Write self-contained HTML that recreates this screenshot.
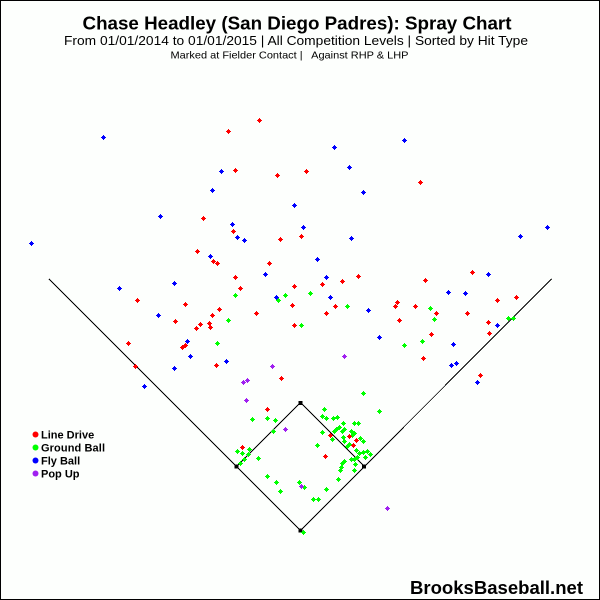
<!DOCTYPE html>
<html>
<head>
<meta charset="utf-8">
<style>
html,body{margin:0;padding:0;background:#fdfffd;}
svg{display:block;}
text{font-family:"Liberation Sans",Arial,sans-serif;fill:#000;}
</style>
</head>
<body>
<svg width="600" height="600" viewBox="0 0 600 600" xmlns="http://www.w3.org/2000/svg">
<defs>
<g id="m"><rect x="-1.5" y="-1.5" width="3" height="3"/><rect x="-2.5" y="-0.5" width="5" height="1"/><rect x="-0.5" y="-2.5" width="1" height="5"/></g>
</defs>
<rect x="0" y="0" width="600" height="600" fill="#fdfffd"/>
<rect x="0.5" y="0.5" width="599" height="599" fill="none" stroke="#000" stroke-width="1"/>

<!-- Titles -->
<text x="82.5" y="29.5" font-size="18" font-weight="bold" textLength="429" lengthAdjust="spacingAndGlyphs">Chase Headley (San Diego Padres): Spray Chart</text>
<text x="64" y="45" font-size="12.5" textLength="464" lengthAdjust="spacingAndGlyphs">From 01/01/2014 to 01/01/2015 | All Competition Levels | Sorted by Hit Type</text>
<text x="170.5" y="58.5" font-size="10.5" textLength="238" lengthAdjust="spacingAndGlyphs" xml:space="preserve">Marked at Fielder Contact |   Against RHP &amp; LHP</text>

<!-- Field lines -->
<g stroke="#000" stroke-width="1" fill="none" shape-rendering="crispEdges">
<line x1="49" y1="279" x2="300.5" y2="530.5"/>
<line x1="551.5" y1="279" x2="300.5" y2="530.5"/>
<line x1="236.5" y1="466.5" x2="300.5" y2="402.5"/>
<line x1="300.5" y1="402.5" x2="364.5" y2="466.5"/>
</g>
<g fill="#000">
<rect x="298.5" y="401" width="4" height="4"/>
<rect x="362" y="464.5" width="4" height="4"/>
<rect x="234.5" y="464.5" width="4" height="4"/>
<rect x="298.5" y="528.5" width="4" height="4"/>
</g>

<!-- Green: Ground Ball -->
<g fill="#00ff00">
<use href="#m" x="235.5" y="295.5"/><use href="#m" x="278.5" y="300.5"/><use href="#m" x="285.5" y="295.5"/><use href="#m" x="228.5" y="320.5"/><use href="#m" x="217.5" y="343.5"/>
<use href="#m" x="310.5" y="293.5"/><use href="#m" x="347.5" y="306.5"/><use href="#m" x="430.5" y="308.5"/><use href="#m" x="434.5" y="319.5"/><use href="#m" x="508.5" y="318.5"/><use href="#m" x="513.5" y="318.5"/><use href="#m" x="301.5" y="325.5"/><use href="#m" x="422.5" y="341.5"/><use href="#m" x="404.5" y="345.5"/>
<use href="#m" x="363.5" y="393.5"/><use href="#m" x="324.5" y="409.5"/><use href="#m" x="379.5" y="411.5"/><use href="#m" x="252.5" y="419.5"/><use href="#m" x="267.5" y="418.5"/><use href="#m" x="275.5" y="420.5"/><use href="#m" x="322.5" y="416.5"/><use href="#m" x="326.5" y="418.5"/><use href="#m" x="333.5" y="418.5"/><use href="#m" x="337.5" y="417.5"/>
<use href="#m" x="343.5" y="423.5"/><use href="#m" x="354.5" y="423.5"/><use href="#m" x="358.5" y="423.5"/><use href="#m" x="339.5" y="427.5"/><use href="#m" x="336.5" y="429.5"/><use href="#m" x="334.5" y="431.5"/><use href="#m" x="342.5" y="431.5"/><use href="#m" x="344.5" y="429.5"/><use href="#m" x="322.5" y="432.5"/><use href="#m" x="273.5" y="431.5"/>
<use href="#m" x="351.5" y="431.5"/><use href="#m" x="354.5" y="433.5"/><use href="#m" x="352.5" y="435.5"/><use href="#m" x="343.5" y="437.5"/><use href="#m" x="360.5" y="438.5"/><use href="#m" x="332.5" y="439.5"/><use href="#m" x="363.5" y="441.5"/><use href="#m" x="344.5" y="441.5"/><use href="#m" x="317.5" y="445.5"/><use href="#m" x="349.5" y="444.5"/>
<use href="#m" x="347.5" y="446.5"/><use href="#m" x="237.5" y="451.5"/><use href="#m" x="249.5" y="449.5"/><use href="#m" x="356.5" y="450.5"/><use href="#m" x="359.5" y="453.5"/><use href="#m" x="363.5" y="452.5"/><use href="#m" x="367.5" y="451.5"/><use href="#m" x="370.5" y="454.5"/><use href="#m" x="242.5" y="453.5"/><use href="#m" x="248.5" y="454.5"/>
<use href="#m" x="357.5" y="457.5"/><use href="#m" x="365.5" y="457.5"/><use href="#m" x="244.5" y="459.5"/><use href="#m" x="258.5" y="458.5"/><use href="#m" x="351.5" y="459.5"/><use href="#m" x="354.5" y="459.5"/><use href="#m" x="344.5" y="461.5"/><use href="#m" x="342.5" y="463.5"/><use href="#m" x="240.5" y="463.5"/><use href="#m" x="355.5" y="464.5"/>
<use href="#m" x="341.5" y="467.5"/><use href="#m" x="340.5" y="470.5"/><use href="#m" x="354.5" y="470.5"/><use href="#m" x="267.5" y="476.5"/><use href="#m" x="338.5" y="479.5"/><use href="#m" x="276.5" y="482.5"/><use href="#m" x="299.5" y="482.5"/><use href="#m" x="304.5" y="487.5"/><use href="#m" x="280.5" y="491.5"/><use href="#m" x="326.5" y="489.5"/>
<use href="#m" x="313.5" y="499.5"/><use href="#m" x="318.5" y="499.5"/><use href="#m" x="303.5" y="532.5"/>
</g>

<!-- Red: Line Drive -->
<g fill="#ff0000">
<use href="#m" x="259.5" y="120.5"/><use href="#m" x="228.5" y="131.5"/><use href="#m" x="235.5" y="170.5"/><use href="#m" x="277.5" y="175.5"/><use href="#m" x="203.5" y="218.5"/><use href="#m" x="233.5" y="231.5"/><use href="#m" x="280.5" y="239.5"/><use href="#m" x="306.5" y="171.5"/><use href="#m" x="420.5" y="182.5"/><use href="#m" x="301.5" y="236.5"/>
<use href="#m" x="197.5" y="251.5"/><use href="#m" x="213.5" y="261.5"/><use href="#m" x="217.5" y="263.5"/><use href="#m" x="269.5" y="263.5"/><use href="#m" x="235.5" y="277.5"/><use href="#m" x="294.5" y="286.5"/><use href="#m" x="240.5" y="288.5"/><use href="#m" x="137.5" y="300.5"/><use href="#m" x="185.5" y="304.5"/><use href="#m" x="292.5" y="305.5"/>
<use href="#m" x="219.5" y="309.5"/><use href="#m" x="256.5" y="313.5"/><use href="#m" x="212.5" y="315.5"/><use href="#m" x="175.5" y="321.5"/><use href="#m" x="200.5" y="324.5"/><use href="#m" x="209.5" y="323.5"/><use href="#m" x="196.5" y="328.5"/><use href="#m" x="210.5" y="327.5"/><use href="#m" x="294.5" y="325.5"/><use href="#m" x="185.5" y="345.5"/>
<use href="#m" x="182.5" y="347.5"/><use href="#m" x="128.5" y="343.5"/><use href="#m" x="216.5" y="365.5"/><use href="#m" x="135.5" y="366.5"/><use href="#m" x="281.5" y="378.5"/>
<use href="#m" x="322.5" y="284.5"/><use href="#m" x="342.5" y="281.5"/><use href="#m" x="358.5" y="276.5"/><use href="#m" x="425.5" y="280.5"/><use href="#m" x="472.5" y="272.5"/><use href="#m" x="497.5" y="300.5"/><use href="#m" x="516.5" y="297.5"/><use href="#m" x="326.5" y="313.5"/><use href="#m" x="335.5" y="306.5"/><use href="#m" x="397.5" y="302.5"/>
<use href="#m" x="395.5" y="306.5"/><use href="#m" x="415.5" y="306.5"/><use href="#m" x="436.5" y="313.5"/><use href="#m" x="399.5" y="320.5"/><use href="#m" x="467.5" y="313.5"/><use href="#m" x="488.5" y="322.5"/><use href="#m" x="489.5" y="333.5"/><use href="#m" x="431.5" y="334.5"/><use href="#m" x="423.5" y="358.5"/><use href="#m" x="480.5" y="375.5"/>
<use href="#m" x="267.5" y="409.5"/><use href="#m" x="330.5" y="435.5"/><use href="#m" x="349.5" y="436.5"/><use href="#m" x="356.5" y="440.5"/><use href="#m" x="353.5" y="445.5"/><use href="#m" x="242.5" y="447.5"/><use href="#m" x="325.5" y="456.5"/>
</g>

<!-- Blue: Fly Ball -->
<g fill="#0000ff">
<use href="#m" x="103.5" y="137.5"/><use href="#m" x="221.5" y="171.5"/><use href="#m" x="212.5" y="190.5"/><use href="#m" x="294.5" y="205.5"/><use href="#m" x="160.5" y="216.5"/><use href="#m" x="232.5" y="224.5"/><use href="#m" x="237.5" y="237.5"/><use href="#m" x="244.5" y="240.5"/><use href="#m" x="31.5" y="243.5"/>
<use href="#m" x="404.5" y="140.5"/><use href="#m" x="334.5" y="147.5"/><use href="#m" x="349.5" y="167.5"/><use href="#m" x="363.5" y="192.5"/><use href="#m" x="303.5" y="227.5"/><use href="#m" x="351.5" y="238.5"/><use href="#m" x="520.5" y="236.5"/><use href="#m" x="547.5" y="227.5"/>
<use href="#m" x="210.5" y="256.5"/><use href="#m" x="265.5" y="274.5"/><use href="#m" x="174.5" y="283.5"/><use href="#m" x="119.5" y="288.5"/><use href="#m" x="276.5" y="297.5"/><use href="#m" x="158.5" y="315.5"/><use href="#m" x="187.5" y="341.5"/><use href="#m" x="190.5" y="356.5"/><use href="#m" x="226.5" y="361.5"/><use href="#m" x="174.5" y="368.5"/><use href="#m" x="144.5" y="386.5"/>
<use href="#m" x="317.5" y="259.5"/><use href="#m" x="326.5" y="277.5"/><use href="#m" x="330.5" y="297.5"/><use href="#m" x="448.5" y="292.5"/><use href="#m" x="465.5" y="293.5"/><use href="#m" x="488.5" y="274.5"/><use href="#m" x="368.5" y="310.5"/><use href="#m" x="497.5" y="325.5"/><use href="#m" x="379.5" y="337.5"/><use href="#m" x="453.5" y="344.5"/>
<use href="#m" x="451.5" y="365.5"/><use href="#m" x="456.5" y="363.5"/><use href="#m" x="477.5" y="382.5"/>
</g>

<!-- Purple: Pop Up -->
<g fill="#a020f0">
<use href="#m" x="272.5" y="366.5"/><use href="#m" x="247.5" y="380.5"/><use href="#m" x="243.5" y="382.5"/><use href="#m" x="344.5" y="356.5"/><use href="#m" x="246.5" y="400.5"/><use href="#m" x="285.5" y="429.5"/><use href="#m" x="301.5" y="486.5"/><use href="#m" x="387.5" y="508.5"/>
</g>

<!-- Legend -->
<circle cx="35.5" cy="434.5" r="3" fill="#ff0000"/>
<circle cx="35.5" cy="447.5" r="3" fill="#00ff00"/>
<circle cx="35.5" cy="460.5" r="3" fill="#0000ff"/>
<circle cx="35.5" cy="473.5" r="3" fill="#a020f0"/>
<g font-size="11" font-weight="bold">
<text x="41" y="438.5">Line Drive</text>
<text x="41" y="451.5" textLength="64" lengthAdjust="spacing">Ground Ball</text>
<text x="41" y="464.5">Fly Ball</text>
<text x="41" y="477.5">Pop Up</text>
</g>

<!-- Watermark -->
<text x="410" y="594" font-size="18.5" font-weight="bold" textLength="173" lengthAdjust="spacingAndGlyphs">BrooksBaseball.net</text>
</svg>
</body>
</html>
